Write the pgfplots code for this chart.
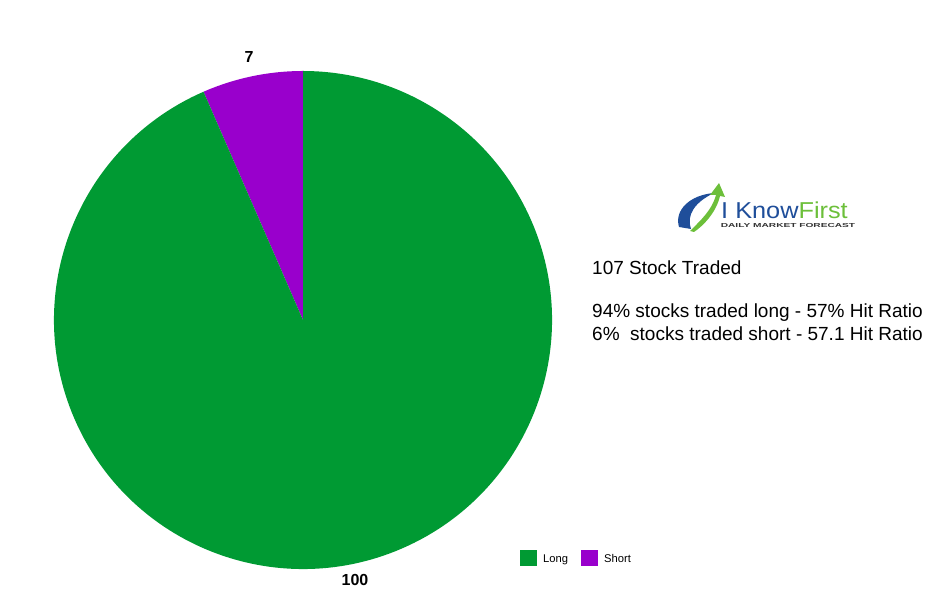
\documentclass[border=0pt]{standalone}
\usepackage{pgfplots}
\pgfplotsset{compat=1.18}
\usepackage{pgfplotstable}
\usepackage{fontspec}
\setmainfont{Liberation Sans}

\definecolor{longc}{HTML}{009A33}
\definecolor{shortc}{HTML}{9900CC}
\definecolor{logoblue}{HTML}{1F4E9A}
\definecolor{logogreen}{HTML}{6CBF3A}

\pgfplotstableread{
Label Value
Long  100
Short 7
}\piedata

\begin{document}
\begin{tikzpicture}
\useasboundingbox (0,0) rectangle (933pt,615pt);
\pgfplotstablegetelem{0}{Value}\of\piedata \let\vlong\pgfplotsretval
\pgfplotstablegetelem{1}{Value}\of\piedata \let\vshort\pgfplotsretval
\pgfmathsetmacro{\aend}{90+360*\vshort/(\vlong+\vshort)}
\begin{axis}[
  scale only axis, width=933pt, height=615pt,
  xmin=0, xmax=933, ymin=0, ymax=615,
  hide axis, clip=false,
]
  % pie: short slice from 12 o'clock counter-clockwise, long takes the rest
  \fill[shortc] (axis cs:303,295) -- ++(90:249pt)
     arc[start angle=90, end angle=\aend, radius=249pt] -- cycle;
  \fill[longc] (axis cs:303,295) -- ++(\aend:249pt)
     arc[start angle=\aend, end angle=450, radius=249pt] -- cycle;

  \node[font=\bfseries\fontsize{16}{18}\selectfont] at (axis cs:249,558) {\vshort};
  \node[font=\bfseries\fontsize{16}{18}\selectfont] at (axis cs:355,35) {\vlong};

  % logo
  \fill[logoblue] (axis cs:679,388) .. controls (axis cs:674,405) and (axis cs:690,420) .. (axis cs:714,422)
     .. controls (axis cs:695,413) and (axis cs:686,400) .. (axis cs:691,386) -- cycle;
  \fill[logogreen] (axis cs:690,384) .. controls (axis cs:701,395) and (axis cs:712,405) .. (axis cs:716,420)
     -- (axis cs:710,420) -- (axis cs:719,432) -- (axis cs:725,418) -- (axis cs:720,419)
     .. controls (axis cs:716,402) and (axis cs:703,389) .. (axis cs:694,383) -- cycle;
  \node[anchor=base west, xscale=1.1, inner sep=0pt,
        font=\fontsize{23}{25}\selectfont] at (axis cs:721,396)
        {\textcolor{logoblue}{I Know}\textcolor{logogreen}{First}};
  \node[anchor=center, xscale=1.75, inner sep=0pt, text=black!80,
        font=\bfseries\fontsize{5.8}{6}\selectfont] at (axis cs:788,389)
        {DAILY MARKET FORECAST};

  % text block
  \node[anchor=base west, inner sep=0pt, font=\fontsize{19}{22}\selectfont]
     at (axis cs:592,340) {107 Stock Traded};
  \node[anchor=base west, inner sep=0pt, font=\fontsize{19}{22}\selectfont]
     at (axis cs:592,297) {94\% stocks traded long - 57\% Hit Ratio};
  \node[anchor=base west, inner sep=0pt, font=\fontsize{19}{22}\selectfont]
     at (axis cs:592,274) {6\%\ \ stocks traded short - 57.1 Hit Ratio};

  % legend
  \fill[longc] (axis cs:520,49) rectangle (axis cs:537,65);
  \node[anchor=base west, inner sep=0pt, font=\fontsize{11.2}{13}\selectfont] at (axis cs:543,52) {Long};
  \fill[shortc] (axis cs:581,49) rectangle (axis cs:598,65);
  \node[anchor=base west, inner sep=0pt, font=\fontsize{11.2}{13}\selectfont] at (axis cs:604,52) {Short};
\end{axis}
\end{tikzpicture}
\end{document}
